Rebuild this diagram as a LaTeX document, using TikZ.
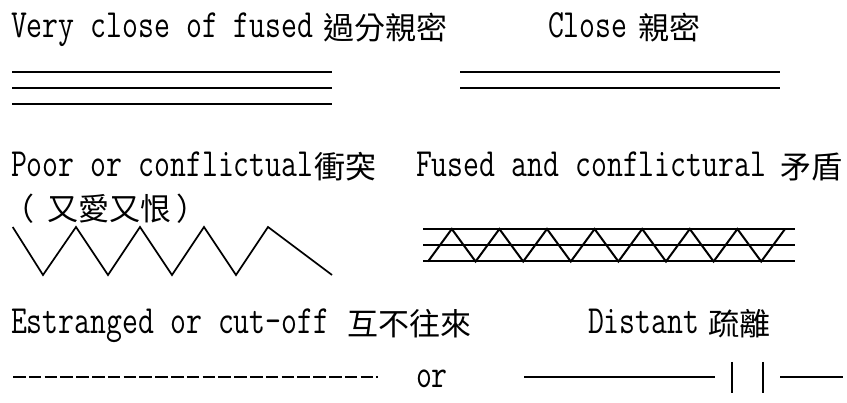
\documentclass[tikz,border=0pt]{standalone}
\usepackage{fontspec}
\newfontfamily\lat[FakeStretch=0.773]{Latin Modern Mono}
\newfontfamily\cjk{Noto Sans CJK TC}
\newcommand\entext[1]{{\fontsize{40}{44}\selectfont\lat #1}}
\newcommand\zhtext[1]{\raisebox{-2pt}{\fontsize{31}{34}\selectfont\cjk #1}}
\tikzset{
  lbl/.style={anchor=base west, inner sep=0pt, outer sep=0pt},
  rel/.style={line width=1.4pt},
  fusedline/.style={line width=2pt},
  zig/.style={line width=1.7pt, line join=miter},
  cutdash/.style={line width=1.5pt, dash pattern=on 12.6pt off 3.2pt},
  bar/.style={line width=1.1pt},
}
\begin{document}
\begin{tikzpicture}[x=1pt,y=-1pt]
\useasboundingbox (0,0) rectangle (847,403);
% Row 1
\node[lbl] (vclose) at (11,38) {\makebox[313pt][l]{\entext{Very close of fused}}\zhtext{過分親密}};
\node[lbl] (close) at (548,38) {\makebox[90pt][l]{\entext{Close}}\zhtext{親密}};
\coordinate (v1a) at (12,72);  \coordinate (v1b) at (332,72);
\coordinate (v2a) at (12,88);  \coordinate (v2b) at (332,88);
\coordinate (v3a) at (12,104); \coordinate (v3b) at (332,104);
\draw[rel] (v1a) -- (v1b);
\draw[rel] (v2a) -- (v2b);
\draw[rel] (v3a) -- (v3b);
\coordinate (c1a) at (460,72); \coordinate (c1b) at (780,72);
\coordinate (c2a) at (460,88); \coordinate (c2b) at (780,88);
\draw[rel] (c1a) -- (c1b);
\draw[rel] (c2a) -- (c2b);
% Row 2
\node[lbl] (poor) at (11,177) {\makebox[304pt][l]{\entext{Poor or conflictual}}\zhtext{衝突}};
\node[lbl] (poorzh) at (3,219) {\zhtext{（\hspace{14pt}又愛又恨\hspace{5pt}）}};
\draw[zig] (12.7,227) -- (43,275) -- (76,227) -- (108,275) -- (140,227) -- (172,275) -- (204,227) -- (236,275) -- (268,227) -- (332,275);
\node[lbl] (fused) at (416,177) {\makebox[364pt][l]{\entext{Fused and conflictural}}\zhtext{矛盾}};
\coordinate (f1a) at (423,229);   \coordinate (f1b) at (795,229);
\coordinate (f2a) at (423,245.5); \coordinate (f2b) at (795,245.5);
\coordinate (f3a) at (423,261.5); \coordinate (f3b) at (795,261.5);
\draw[fusedline] (f1a) -- (f1b);
\draw[fusedline] (f2a) -- (f2b);
\draw[fusedline] (f3a) -- (f3b);
\draw[fusedline, line join=miter] (428,261.5) \foreach \k in {1,...,15}{ -- ({428+23.8*\k},{mod(\k,2)==1 ? 229 : 261.5}) };
% Row 3
\node[lbl] (estr) at (11,334) {\makebox[337pt][l]{\entext{Estranged or cut-off}}\zhtext{互不往來}};
\node[lbl] (dist) at (588,334) {\makebox[120pt][l]{\entext{Distant}}\zhtext{疏離}};
\coordinate (e1) at (13,377); \coordinate (e2) at (378,377);
\draw[cutdash] (e1) -- (e2);
\node[lbl] (or) at (416,388) {\entext{or}};
\coordinate (d1) at (524,377); \coordinate (d2) at (715,377);
\coordinate (d3) at (780,377); \coordinate (d4) at (843,377);
\coordinate (b1t) at (732,362); \coordinate (b1b) at (732,393);
\coordinate (b2t) at (763,362); \coordinate (b2b) at (763,393);
\draw[bar] (d1) -- (d2);
\draw[bar] (b1t) -- (b1b);
\draw[bar] (b2t) -- (b2b);
\draw[bar] (d3) -- (d4);
\end{tikzpicture}
\end{document}
